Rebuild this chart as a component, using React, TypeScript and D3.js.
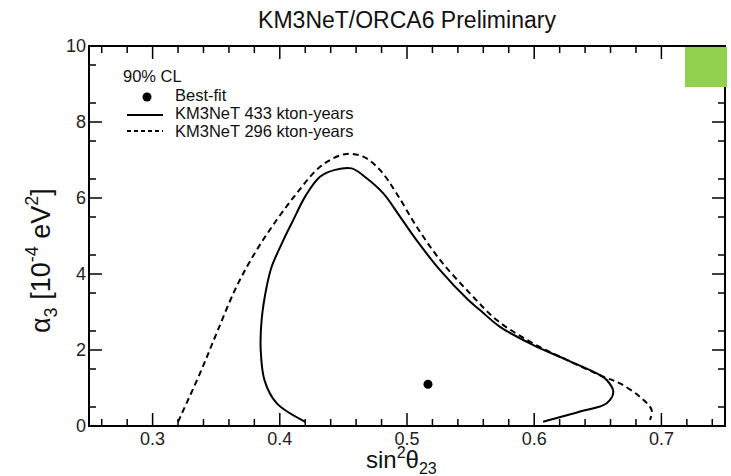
import React from "react";
import * as d3 from "d3";

const W = 731;
const H = 476;

const titleText = "KM3NeT/ORCA6 Preliminary";
const xTicks = [0.3, 0.4, 0.5, 0.6, 0.7];
const yTicks = [0, 2, 4, 6, 8, 10];

// 90% CL contour, KM3NeT 433 kton-years (solid)
const contour433: [number, number][] = [
  [0.420, 0.11], [0.3975, 0.6], [0.388, 1.2], [0.385, 2.0], [0.3857, 2.79],
  [0.3897, 3.67], [0.3936, 4.19], [0.4028, 4.89], [0.4106, 5.42], [0.4198, 6.03],
  [0.4316, 6.56], [0.4434, 6.74], [0.4565, 6.78], [0.4683, 6.52], [0.4814, 6.12],
  [0.4945, 5.51], [0.5075, 4.89], [0.526, 4.1], [0.548, 3.32], [0.5574, 3.05],
  [0.5731, 2.61], [0.5993, 2.13], [0.6255, 1.74], [0.6517, 1.34], [0.657, 1.21],
  [0.6622, 0.9], [0.657, 0.6], [0.636, 0.38], [0.607, 0.11],
];

// 90% CL contour, KM3NeT 296 kton-years (dashed)
const contour296: [number, number][] = [
  [0.320, 0.11], [0.3373, 1.39], [0.3503, 2.44], [0.366, 3.67], [0.3818, 4.63],
  [0.3975, 5.42], [0.4132, 6.12], [0.4289, 6.74], [0.4395, 7.0], [0.4525, 7.16],
  [0.4656, 7.09], [0.4787, 6.74], [0.4918, 6.12], [0.5075, 5.25], [0.526, 4.37],
  [0.5495, 3.49], [0.5705, 2.79], [0.5967, 2.22], [0.6255, 1.74], [0.6543, 1.3],
  [0.6674, 1.12], [0.683, 0.77], [0.6923, 0.42], [0.691, 0.16],
];

const bestFit: [number, number] = [0.5165, 1.1];

const legendItems = ["Best-fit", "KM3NeT 433 kton-years", "KM3NeT 296 kton-years"];

const FONT = "'Liberation Sans', Arial, Helvetica, sans-serif";

export default function App() {
  const left = 89, right = 725, top = 46, bottom = 426;
  const x = d3.scaleLinear().domain([0.25, 0.75]).range([left, right]);
  const y = d3.scaleLinear().domain([0, 10]).range([bottom, top]);

  const line = d3
    .line<[number, number]>()
    .x((d) => x(d[0]))
    .y((d) => y(d[1]))
    .curve(d3.curveCatmullRom.alpha(0.5));

  const xMinor = d3.range(0.26, 0.7501, 0.02).filter(
    (v) => !xTicks.some((t) => Math.abs(t - v) < 1e-6)
  );
  const yMinor = d3.range(0.5, 10, 1);

  const maj = 13, mnr = 7;

  return (
    <svg
      width={W}
      height={H}
      style={{ position: "absolute", left: 0, top: 0, background: "#fff" }}
      fontFamily={FONT}
    >
      <rect x={0} y={0} width={W} height={H} fill="#fff" />
      <text x={407} y={28} textAnchor="middle" fontSize={23} fill="#111">
        {titleText}
      </text>

      {/* ticks */}
      <g stroke="#000" strokeWidth={1.5}>
        {xTicks.map((t) => (
          <g key={"xt" + t}>
            <line x1={x(t)} x2={x(t)} y1={bottom} y2={bottom - maj} />
            <line x1={x(t)} x2={x(t)} y1={top} y2={top + maj} />
          </g>
        ))}
        {xMinor.map((t) => (
          <g key={"xm" + t}>
            <line x1={x(t)} x2={x(t)} y1={bottom} y2={bottom - mnr} />
            <line x1={x(t)} x2={x(t)} y1={top} y2={top + mnr} />
          </g>
        ))}
        {yTicks.map((t) => (
          <g key={"yt" + t}>
            <line x1={left} x2={left + maj} y1={y(t)} y2={y(t)} />
            <line x1={right} x2={right - maj} y1={y(t)} y2={y(t)} />
          </g>
        ))}
        {yMinor.map((t) => (
          <g key={"ym" + t}>
            <line x1={left} x2={left + mnr} y1={y(t)} y2={y(t)} />
            <line x1={right} x2={right - mnr} y1={y(t)} y2={y(t)} />
          </g>
        ))}
      </g>

      {/* tick labels */}
      <g fontSize={18} fill="#222">
        {xTicks.map((t) => (
          <text key={"xl" + t} x={x(t)} y={bottom + 19} textAnchor="middle">
            {d3.format(".1f")(t)}
          </text>
        ))}
        {yTicks.map((t) => (
          <text key={"yl" + t} x={left - 3} y={y(t) + 6} textAnchor="end">
            {t}
          </text>
        ))}
      </g>

      {/* axis titles */}
      <text x={366} y={468} fontSize={24} fill="#111">
        sin
        <tspan fontSize={16} dy={-10}>2</tspan>
        <tspan dy={10}>θ</tspan>
        <tspan fontSize={16} dy={6}>23</tspan>
      </text>
      <text
        transform={`translate(50,333) rotate(-90)`}
        fontSize={27}
        fill="#111"
      >
        α
        <tspan fontSize={18} dy={7}>3</tspan>
        <tspan dy={-7}> [10</tspan>
        <tspan fontSize={18} dy={-12}>-4</tspan>
        <tspan dy={12}> eV</tspan>
        <tspan fontSize={18} dy={-12}>2</tspan>
        <tspan dy={12}>]</tspan>
      </text>

      {/* contours */}
      <path d={line(contour296) || ""} fill="none" stroke="#000" strokeWidth={2} strokeDasharray="6,4" />
      <path d={line(contour433) || ""} fill="none" stroke="#000" strokeWidth={2} />
      <circle cx={x(bestFit[0])} cy={y(bestFit[1])} r={4.5} fill="#000" />

      {/* legend */}
      <g fontSize={16.5} fill="#111">
        <text x={123} y={82}>90% CL</text>
        <circle cx={147} cy={97} r={4.5} fill="#000" />
        <text x={175} y={101}>{legendItems[0]}</text>
        <line x1={127} x2={163} y1={115} y2={115} stroke="#000" strokeWidth={2} />
        <text x={175} y={119}>{legendItems[1]}</text>
        <line x1={127} x2={163} y1={131} y2={131} stroke="#000" strokeWidth={2} strokeDasharray="4,3" />
        <text x={175} y={137}>{legendItems[2]}</text>
      </g>

      {/* frame */}
      <rect x={left} y={top} width={right - left} height={bottom - top} fill="none" stroke="#000" strokeWidth={2} />

      {/* green corner patch */}
      <rect x={685} y={47} width={42} height={40} fill="#92D050" />
    </svg>
  );
}
